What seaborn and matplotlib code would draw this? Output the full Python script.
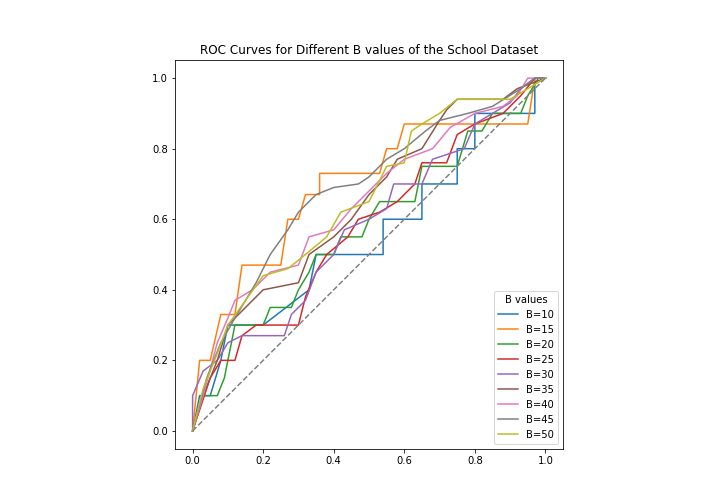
import matplotlib
matplotlib.use("Agg")
import matplotlib.pyplot as plt
import seaborn as sns
import pandas as pd

b_labels = ["B=10","B=15","B=20","B=25","B=30","B=35","B=40","B=45","B=50"]
fpr_10 = [0,0.02,0.05,0.08,0.1,0.2,0.33,0.35,0.54,0.54,0.65,0.65,0.75,0.75,0.8,0.8,0.97,0.97,1]
tpr_10 = [0,0.1,0.1,0.2,0.3,0.3,0.4,0.5,0.5,0.6,0.6,0.7,0.7,0.8,0.8,0.9,0.9,1.0,1]
fpr_15 = [0,0.02,0.05,0.08,0.12,0.14,0.25,0.27,0.3,0.32,0.36,0.36,0.53,0.55,0.58,0.6,0.95,0.97,1]
tpr_15 = [0,0.2,0.2,0.33,0.33,0.47,0.47,0.6,0.6,0.67,0.67,0.73,0.73,0.8,0.8,0.87,0.87,1,1]
fpr_20 = [0,0.03,0.07,0.09,0.1,0.12,0.2,0.22,0.28,0.3,0.33,0.35,0.4,0.42,0.48,0.5,0.53,0.63,0.65,0.75,0.78,0.82,0.85,0.93,0.95,0.98,1]
tpr_20 = [0,0.1,0.1,0.15,0.2,0.3,0.3,0.35,0.35,0.4,0.45,0.5,0.5,0.55,0.55,0.6,0.65,0.65,0.75,0.75,0.85,0.85,0.9,0.9,0.95,1.0,1]
fpr_25 = [0,0.05,0.08,0.12,0.14,0.18,0.3,0.32,0.35,0.38,0.44,0.47,0.53,0.58,0.63,0.65,0.72,0.75,0.8,0.88,0.93,0.97,1]
tpr_25 = [0,0.15,0.2,0.2,0.27,0.3,0.3,0.38,0.45,0.5,0.55,0.6,0.62,0.65,0.7,0.76,0.76,0.84,0.87,0.9,0.95,1,1]
fpr_30 = [0,0,0.03,0.07,0.1,0.14,0.26,0.28,0.32,0.35,0.4,0.43,0.5,0.55,0.57,0.65,0.68,0.77,0.8,0.85,0.9,0.93,0.97,1]
tpr_30 = [0,0.1,0.17,0.2,0.25,0.27,0.27,0.33,0.37,0.45,0.5,0.57,0.6,0.63,0.7,0.7,0.77,0.8,0.87,0.9,0.93,0.97,1,1]
fpr_35 = [0,0.03,0.07,0.1,0.15,0.2,0.3,0.33,0.4,0.45,0.5,0.55,0.58,0.65,0.7,0.72,0.75,0.88,0.92,1]
tpr_35 = [0,0.1,0.2,0.3,0.35,0.4,0.42,0.5,0.55,0.6,0.67,0.72,0.77,0.8,0.88,0.91,0.94,0.94,0.97,1]
fpr_40 = [0,0.03,0.07,0.1,0.12,0.17,0.22,0.3,0.33,0.4,0.45,0.5,0.55,0.6,0.68,0.73,0.8,0.88,0.92,0.95,1]
tpr_40 = [0,0.1,0.25,0.32,0.37,0.4,0.45,0.47,0.55,0.57,0.63,0.68,0.73,0.77,0.8,0.86,0.9,0.92,0.95,1,1]
fpr_45 = [0,0.04,0.08,0.12,0.18,0.22,0.27,0.3,0.35,0.4,0.47,0.5,0.55,0.6,0.66,0.7,0.78,0.85,0.93,0.97,1]
tpr_45 = [0,0.15,0.25,0.32,0.42,0.5,0.57,0.62,0.67,0.69,0.7,0.72,0.77,0.8,0.85,0.88,0.9,0.92,0.97,1,1]
fpr_50 = [0,0.03,0.07,0.1,0.15,0.2,0.27,0.32,0.38,0.42,0.5,0.55,0.6,0.62,0.65,0.7,0.75,0.9,0.95,1]
tpr_50 = [0,0.12,0.22,0.3,0.37,0.44,0.46,0.5,0.55,0.62,0.65,0.75,0.76,0.85,0.87,0.9,0.94,0.94,0.97,1]

curves = [(fpr_10,tpr_10),(fpr_15,tpr_15),(fpr_20,tpr_20),(fpr_25,tpr_25),(fpr_30,tpr_30),
          (fpr_35,tpr_35),(fpr_40,tpr_40),(fpr_45,tpr_45),(fpr_50,tpr_50)]

fig, ax = plt.subplots(figsize=(10, 7), dpi=72)
colors = sns.color_palette("tab10")
for i, (lab, (x, y)) in enumerate(zip(b_labels, curves)):
    df = pd.DataFrame({"x": x, "y": y})
    sns.lineplot(data=df, x="x", y="y", sort=False, estimator=None, color=colors[i], label=lab, ax=ax)
sns.lineplot(x=[0, 1], y=[0, 1], color="gray", linestyle="--", ax=ax)
ax.set_aspect("equal")
ax.set_xlabel("")
ax.set_ylabel("")
ax.set_title("ROC Curves for Different B values of the School Dataset")
ax.legend(title="B values", loc="lower right")
fig.savefig("out.png")
